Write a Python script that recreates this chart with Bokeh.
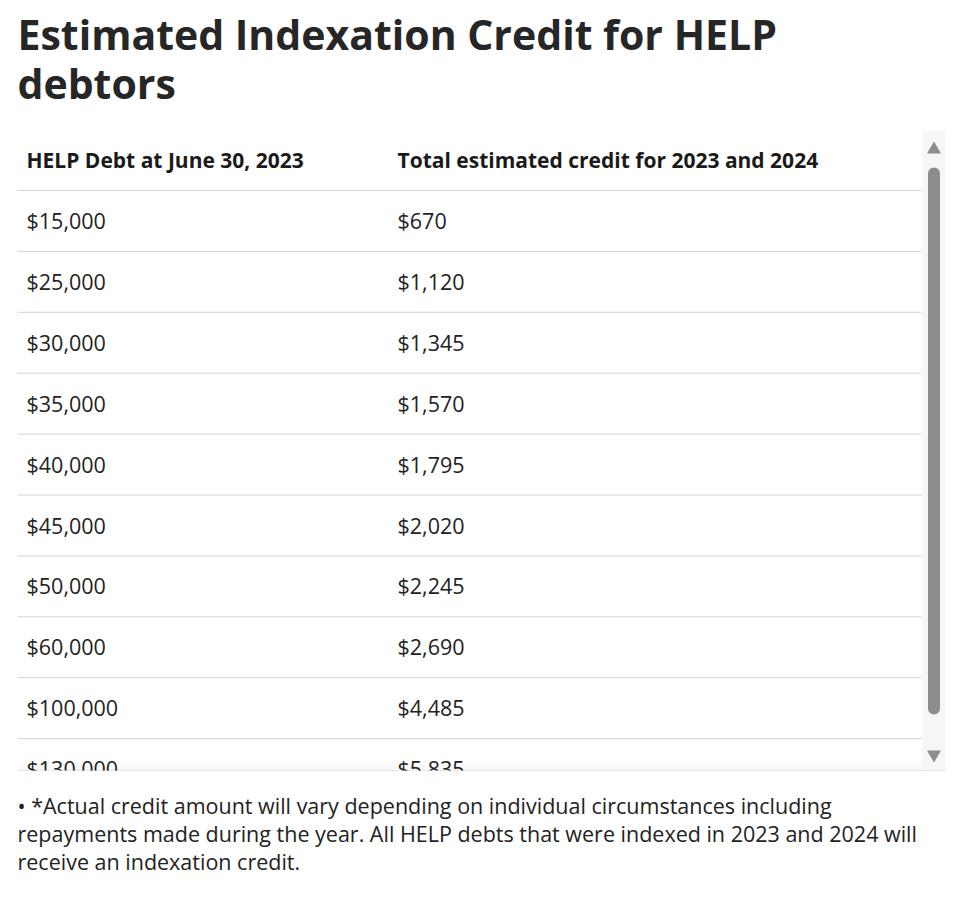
from bokeh.plotting import figure
from bokeh.models import Range1d, ColumnDataSource
from bokeh.layouts import column
from bokeh.core.properties import value
from bokeh.embed import file_html
from bokeh.resources import INLINE

# ---- data ----
title_lines = ["Estimated Indexation Credit for HELP", "debtors"]
headers = ["HELP Debt at June 30, 2023", "Total estimated credit for 2023 and 2024"]
debt = [15000, 25000, 30000, 35000, 40000, 45000, 50000, 60000, 100000, 130000]
credit = [670, 1120, 1345, 1570, 1795, 2020, 2245, 2690, 4485, 5835]
footnote = [
    "\u2022 *Actual credit amount will vary depending on individual circumstances including",
    "repayments made during the year. All HELP debts that were indexed in 2023 and 2024 will",
    "receive an indexation credit.",
]

FONT = value("Open Sans")
W = 948
H1 = 771
H2 = 118

# ---- layout constants (page pixel coordinates) ----
header_line = 190.0
row_h = 60.9
col_x = [26, 397]
table_left, table_right = 17, 921
view_bottom = 771

p1 = figure(width=W, height=H1, output_backend="svg", toolbar_location=None,
            x_range=Range1d(0, W), y_range=Range1d(H1, 0),
            x_axis_location=None, y_axis_location=None, min_border=0,
            outline_line_color=None, background_fill_color="white",
            border_fill_color="white")
p1.grid.visible = False

# title
p1.text(x=[17, 17], y=[33, 82], text=title_lines, text_font=FONT,
        text_font_size="41px", text_font_style="bold", text_color="#262626",
        text_baseline="alphabetic", text_align="left")

# header
p1.text(x=col_x, y=[159, 159], text=headers, text_font=FONT,
        text_font_size="21px", text_font_style="bold", text_color="#1a1a1a",
        text_baseline="alphabetic", text_align="left")

# rows
n = len(debt)
row_top = [header_line + row_h * i for i in range(n)]
src = ColumnDataSource(dict(
    debt_lbl=["$" + f"{v:,}" for v in debt],
    credit_lbl=["$" + f"{v:,}" for v in credit],
    base=[t + 30 for t in row_top],
    line_y=[t for t in row_top],
    x0=[col_x[0]] * n, x1=[col_x[1]] * n,
    lx0=[table_left] * n, lx1=[table_right] * n,
))
p1.segment(x0="lx0", x1="lx1", y0="line_y", y1="line_y", source=src,
           line_color="#d4d4d4", line_width=1)
p1.text(x="x0", y="base", text="debt_lbl", source=src, text_font=FONT,
        text_font_size="21.5px", text_color="#222222", text_baseline="alphabetic")
p1.text(x="x1", y="base", text="credit_lbl", source=src, text_font=FONT,
        text_font_size="21.5px", text_color="#222222", text_baseline="alphabetic")

# bottom shadow of scroll viewport
for k in range(10):
    p1.quad(left=table_left, right=922, top=view_bottom - 10 + k,
            bottom=view_bottom - 9 + k, fill_color="black",
            fill_alpha=0.004 * (k + 1), line_color=None)

# scrollbar
p1.quad(left=922, right=945, top=130, bottom=view_bottom,
        fill_color="#f6f6f6", line_color=None)
p1.segment(x0=[933.5], x1=[933.5], y0=[173], y1=[708], line_width=12,
           line_cap="round", line_color="#8c8c8c")
p1.scatter(x=[933.5], y=[149], marker="triangle", size=14,
           fill_color="#8c8c8c", line_color=None)
p1.scatter(x=[933.5], y=[754], marker="inverted_triangle", size=14,
           fill_color="#8c8c8c", line_color=None)
p1.segment(x0=[table_left], x1=[945], y0=[view_bottom - 0.5], y1=[view_bottom - 0.5],
           line_color="#d9d9d9", line_width=1)

# footnote figure
p2 = figure(width=W, height=H2, output_backend="svg", toolbar_location=None,
            x_range=Range1d(0, W), y_range=Range1d(H1 + H2, H1),
            x_axis_location=None, y_axis_location=None, min_border=0,
            outline_line_color=None, background_fill_color="white",
            border_fill_color="white")
p2.grid.visible = False
p2.text(x=[17, 17, 17], y=[805, 833, 861], text=footnote, text_font=FONT,
        text_font_size="21.5px", text_color="#222222", text_baseline="alphabetic")

layout = column(p1, p2, spacing=0)
open("out.html", "w").write(file_html(layout, INLINE))
